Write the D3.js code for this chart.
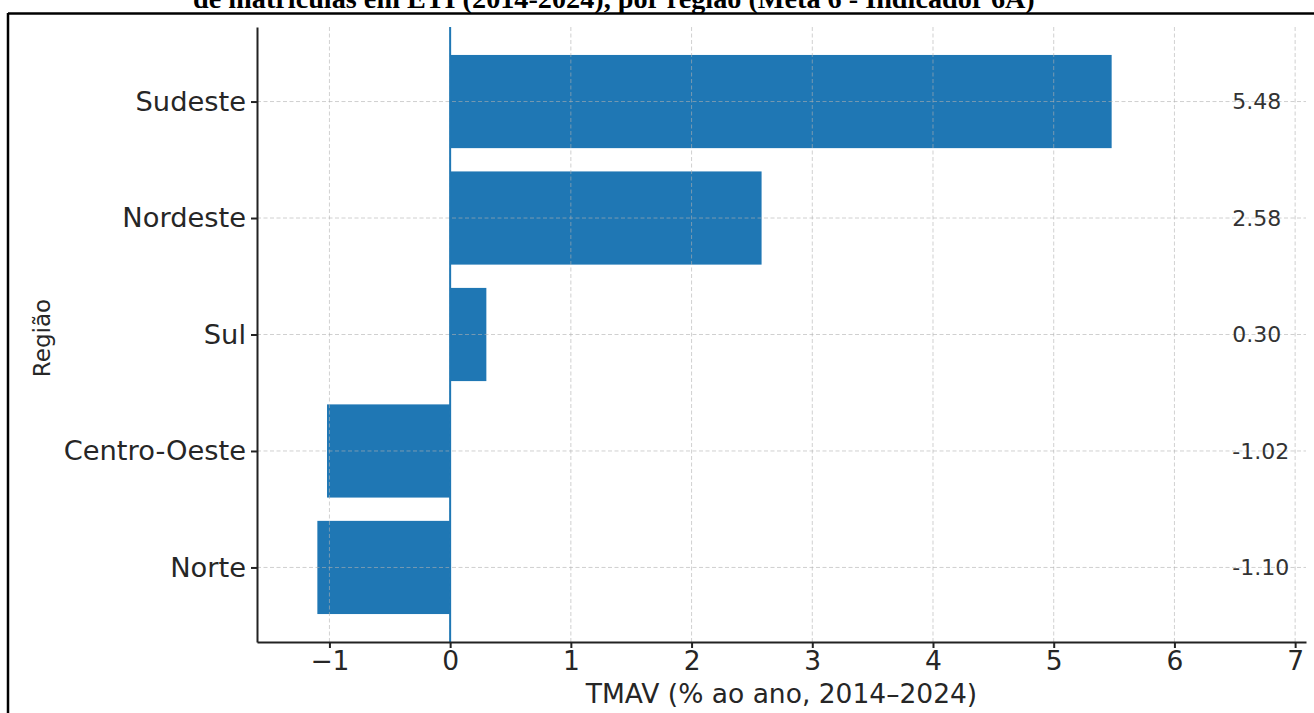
<!DOCTYPE html>
<html>
<head>
<meta charset="utf-8">
<script src="https://cdn.jsdelivr.net/npm/d3@7"></script>
<style>
  body { margin: 0; background: #fff; }
  svg { display: block; }
  .tick text { font-family: "DejaVu Sans", sans-serif; fill: #262626; }
</style>
</head>
<body>
<svg id="chart" width="1314" height="713"></svg>
<script>
// data
const regions = ["Norte", "Centro-Oeste", "Sul", "Nordeste", "Sudeste"];
const tmav = [-1.10, -1.02, 0.30, 2.58, 5.48];
const xTicks = [-1, 0, 1, 2, 3, 4, 5, 6, 7];
const titleText = "de matrículas em ETI (2014-2024), por região (Meta 6 - Indicador 6A)";
const xLabel = "TMAV (% ao ano, 2014–2024)";
const yLabel = "Região";

const svg = d3.select("#chart");
const blue = "#1f77b4";

// plot area
const plotLeft = 257, plotRight = 1306, plotTop = 27, plotBottom = 642;

const x = d3.scaleLinear().domain([-1.6, 7.09]).range([plotLeft, plotRight]);
const y = d3.scaleLinear().domain([-0.64, 4.64]).range([plotBottom, plotTop]);
const barH = y(0) - y(0.8);

// title (cut off at the top of the picture)
const title = svg.append("text")
    .attr("x", 193)
    .attr("y", 7.5)
    .attr("font-family", "'Liberation Serif', 'Times New Roman', serif")
    .attr("font-weight", "bold")
    .attr("font-size", 24)
    .attr("fill", "#000")
    .text(titleText);
// fit title width to the reference (~842px)
const tw = title.node().getComputedTextLength();
title.attr("font-size", 24 * 842 / tw);

// frame
svg.append("line").attr("x1", 8).attr("x2", 1314).attr("y1", 13.5).attr("y2", 13.5)
    .attr("stroke", "#000").attr("stroke-width", 2.5);
svg.append("line").attr("x1", 8).attr("x2", 8).attr("y1", 13).attr("y2", 713)
    .attr("stroke", "#000").attr("stroke-width", 2.5);

// bars
svg.append("g").selectAll("rect")
    .data(tmav)
    .join("rect")
    .attr("x", d => x(Math.min(0, d)))
    .attr("width", d => Math.abs(x(d) - x(0)))
    .attr("y", (d, i) => y(i) - barH / 2)
    .attr("height", barH)
    .attr("fill", blue);

// grid on top of the bars
const grid = svg.append("g")
    .attr("stroke", "#b0b0b0")
    .attr("stroke-opacity", 0.6)
    .attr("stroke-width", 1)
    .attr("stroke-dasharray", "4,2.5");
grid.selectAll("line.v")
    .data(xTicks)
    .join("line")
    .attr("class", "v")
    .attr("x1", d => x(d)).attr("x2", d => x(d))
    .attr("y1", plotTop).attr("y2", plotBottom);
grid.selectAll("line.h")
    .data(regions)
    .join("line")
    .attr("class", "h")
    .attr("x1", plotLeft).attr("x2", plotRight)
    .attr("y1", (d, i) => y(i)).attr("y2", (d, i) => y(i));

// zero line
svg.append("line")
    .attr("x1", x(0)).attr("x2", x(0))
    .attr("y1", plotTop).attr("y2", plotBottom)
    .attr("stroke", blue)
    .attr("stroke-width", 2);

// value labels
svg.append("g").selectAll("text")
    .data(tmav)
    .join("text")
    .attr("x", d => x(d3.max(tmav) + 1))
    .attr("y", (d, i) => y(i))
    .attr("dy", "0.35em")
    .attr("font-family", "'DejaVu Sans', sans-serif")
    .attr("font-size", 22)
    .attr("fill", "#333")
    .text(d => d.toFixed(2));

// axes
const xAxis = svg.append("g")
    .attr("transform", "translate(0," + plotBottom + ")")
    .call(d3.axisBottom(x).tickValues(xTicks).tickSize(6).tickSizeOuter(0).tickPadding(3));
xAxis.selectAll(".tick text").attr("font-size", 26.5);

const yAxis = svg.append("g")
    .attr("transform", "translate(" + plotLeft + ",0)")
    .call(d3.axisLeft(y).tickValues(d3.range(regions.length)).tickFormat(i => regions[i])
        .tickSize(6).tickSizeOuter(0).tickPadding(5));
yAxis.selectAll(".tick text").attr("font-size", 27.3);

[xAxis, yAxis].forEach(a => {
    a.select(".domain").attr("stroke", "#222").attr("stroke-width", 2);
    a.selectAll(".tick line").attr("stroke", "#222").attr("stroke-width", 2);
});

// axis titles
svg.append("text")
    .attr("x", (plotLeft + plotRight) / 2)
    .attr("y", 703)
    .attr("text-anchor", "middle")
    .attr("font-family", "'DejaVu Sans', sans-serif")
    .attr("font-size", 26.5)
    .attr("fill", "#262626")
    .text(xLabel);

svg.append("text")
    .attr("transform", "translate(50,338) rotate(-90)")
    .attr("text-anchor", "middle")
    .attr("font-family", "'DejaVu Sans', sans-serif")
    .attr("font-size", 23)
    .attr("fill", "#262626")
    .text(yLabel);
</script>
</body>
</html>
